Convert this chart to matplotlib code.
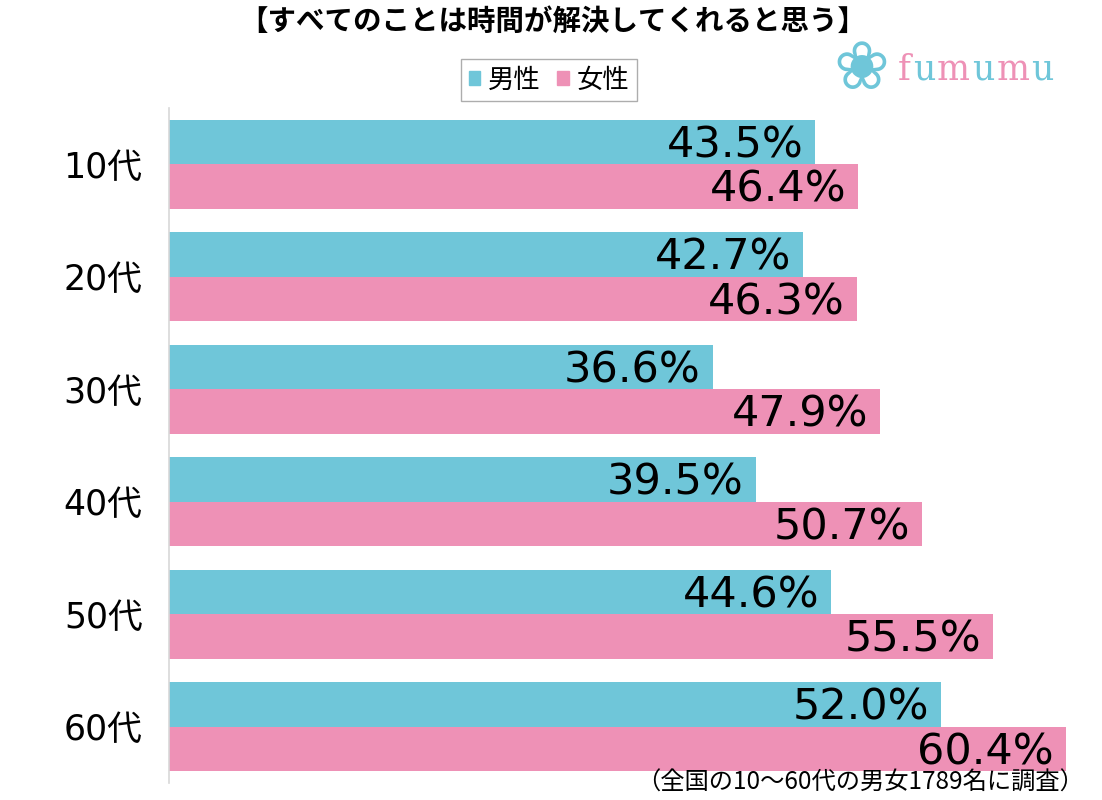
import numpy as np
import matplotlib.pyplot as plt

plt.rcParams['font.family'] = ['Noto Sans CJK JP', 'DejaVu Sans']

# data
ages = ['10代', '20代', '30代', '40代', '50代', '60代']
male = [43.5, 42.7, 36.6, 39.5, 44.6, 52.0]
female = [46.4, 46.3, 47.9, 50.7, 55.5, 60.4]
series_names = ['男性', '女性']
title = '【すべてのことは時間が解決してくれると思う】'
note = '（全国の10〜60代の男女1789名に調査）'

c_male = '#6fc6d9'
c_female = '#ee91b6'

W, H = 1102, 800
fig = plt.figure(figsize=(W / 100, H / 100), dpi=100)
ax = fig.add_axes([169 / W, 1 - 783 / H, (1095 - 169) / W, (783 - 108) / H])

y = np.arange(len(ages))
bh = 0.395
ax.barh(y - bh / 2, male, height=bh, color=c_male)
ax.barh(y + bh / 2, female, height=bh, color=c_female)

num_font = ['DejaVu Sans', 'Noto Sans CJK JP']
for i in range(len(ages)):
    ax.text(male[i] - 0.8, y[i] - bh / 2 + 0.03, f'{male[i]:.1f}%', ha='right', va='center',
            fontsize=31, color='black', family=num_font)
    ax.text(female[i] - 0.8, y[i] + bh / 2 + 0.03, f'{female[i]:.1f}%', ha='right', va='center',
            fontsize=31, color='black', family=num_font)

ax.set_xlim(0, (1095 - 169) / ((1066 - 169) / 60.4))
ax.set_ylim(len(ages) - 0.5, -0.5)
ax.set_yticks(y)
ax.set_yticklabels(ages, fontsize=25, family=num_font)
ax.tick_params(axis='y', length=0, pad=19)
ax.set_xticks([])
for s in ['top', 'right', 'bottom']:
    ax.spines[s].set_visible(False)
ax.spines['left'].set_color('#d8d8d8')
ax.spines['left'].set_linewidth(1.2)

fig.text(553 / W, 1 - 22 / H, title, ha='center', va='center', fontsize=20.5, fontweight='bold')

handles = [plt.Rectangle((0, 0), 1, 1, color=c_male), plt.Rectangle((0, 0), 1, 1, color=c_female)]
leg = fig.legend(handles, series_names, loc='center', bbox_to_anchor=(549 / W, 1 - 80 / H),
                 ncol=2, fontsize=19, frameon=True, fancybox=False, handlelength=0.45,
                 handleheight=0.45, handletextpad=0.3, columnspacing=0.6, borderpad=0.3,
                 borderaxespad=0)
leg.get_frame().set_edgecolor('#999999')
leg.get_frame().set_linewidth(1.0)

# logo
renderer = fig.canvas.get_renderer()
lx = 898
for k, ch in enumerate('fumumu'):
    t = fig.text(lx / W, 1 - 70 / H, ch, ha='left', va='center', fontsize=25,
                 family='DejaVu Serif', color=c_female if k % 2 == 0 else c_male)
    lx += t.get_window_extent(renderer).width + 2
fig.text(861 / W, 1 - 70 / H, '❀', ha='center', va='center', fontsize=48,
         family='DejaVu Sans', color=c_male)

fig.text(1084 / W, 1 - 783 / H, note, ha='right', va='center', fontsize=17.5)

fig.savefig('out.png', dpi=100)
